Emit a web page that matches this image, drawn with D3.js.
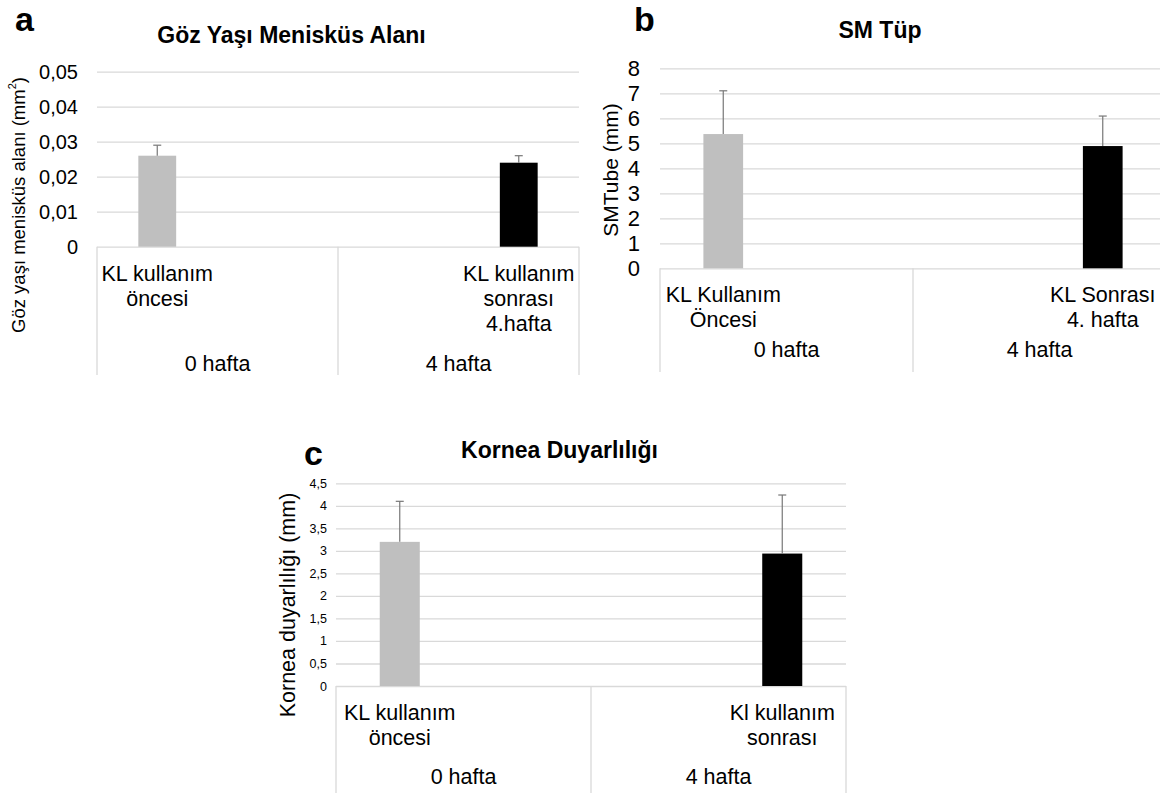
<!DOCTYPE html>
<html>
<head>
<meta charset="utf-8">
<script src="https://cdn.jsdelivr.net/npm/d3@7"></script>
<style>
  body { margin: 0; background: #fff; }
  svg { display: block; font-family: "Liberation Sans", Arial, sans-serif; }
</style>
</head>
<body>
<svg id="chart" width="1160" height="793"></svg>
<script>
// data
const weeks = ["0 hafta", "4 hafta"];
const series = ["KL öncesi", "KL sonrası"];

// panel a - Göz Yaşı Menisküs Alanı
const labelsA = [["KL kullanım", "öncesi"], ["KL kullanım", "sonrası", "4.hafta"]];
const meanA = [0.026, 0.024];
const sdA = [0.003, 0.002];
const ticksA = [0, 0.01, 0.02, 0.03, 0.04, 0.05];

// panel b - SM Tüp
const labelsB = [["KL Kullanım", "Öncesi"], ["KL Sonrası", "4. hafta"]];
const meanB = [5.37, 4.89];
const sdB = [1.73, 1.2];
const ticksB = [0, 1, 2, 3, 4, 5, 6, 7, 8];

// panel c - Kornea Duyarlılığı
const labelsC = [["KL kullanım", "öncesi"], ["Kl kullanım", "sonrası"]];
const meanC = [3.2, 2.94];
const sdC = [0.9, 1.3];
const ticksC = [0, 0.5, 1, 1.5, 2, 2.5, 3, 3.5, 4, 4.5];

const barColors = ["#bfbfbf", "#000000"];
const trFormat = d3.formatLocale({decimal: ",", thousands: ".", grouping: [3], currency: ["", "₺"]}).format("~g");

const svg = d3.select("#chart");

function drawPanel(p) {
  const g = svg.append("g");
  const y = d3.scaleLinear().domain([0, d3.max(p.ticks)]).range([p.bottom, p.top]);
  const x = d3.scaleBand().domain(weeks).range([p.left, p.right]).padding(0);
  const xs = d3.scaleBand().domain(series).range([0, x.bandwidth()]).padding(0);
  const bw = xs.bandwidth() * 0.314;

  // gridlines + tick labels
  const axis = g.append("g")
    .attr("transform", `translate(${p.left},0)`)
    .call(d3.axisLeft(y).tickValues(p.ticks).tickFormat(trFormat)
      .tickSize(-(p.right - p.left)).tickPadding(p.tickPad));
  axis.select(".domain").remove();
  axis.selectAll(".tick line").attr("stroke", "#d9d9d9").attr("stroke-width", 1.3);
  axis.selectAll(".tick text")
    .attr("fill", "#000")
    .style("font-size", p.tickFont + "px")
    .style("font-family", "'Liberation Sans', Arial, sans-serif");

  // category box lines
  const edges = [p.left, x(weeks[1]), p.right];
  g.selectAll("line.cat").data(edges).join("line")
    .attr("class", "cat")
    .attr("x1", d => d).attr("x2", d => d)
    .attr("y1", p.bottom).attr("y2", p.boxBottom)
    .attr("stroke", "#d9d9d9").attr("stroke-width", 1.3);

  const cx = i => x(weeks[i]) + xs(series[i]) + xs.bandwidth() / 2;

  // bars
  g.selectAll("rect.bar").data(p.mean).join("rect")
    .attr("class", "bar")
    .attr("x", (d, i) => cx(i) - bw / 2)
    .attr("width", bw)
    .attr("y", d => y(d))
    .attr("height", d => y(0) - y(d))
    .attr("fill", (d, i) => barColors[i]);

  // error bars (upper only)
  p.mean.forEach((m, i) => {
    const top = y(m + p.sd[i]);
    g.append("line")
      .attr("x1", cx(i)).attr("x2", cx(i))
      .attr("y1", y(m)).attr("y2", top)
      .attr("stroke", "#777").attr("stroke-width", 1.2);
    g.append("line")
      .attr("x1", cx(i) - 4).attr("x2", cx(i) + 4)
      .attr("y1", top).attr("y2", top)
      .attr("stroke", "#777").attr("stroke-width", 1.2);
  });

  // inner category labels
  p.labels.forEach((lines, i) => {
    const t = g.append("text")
      .attr("text-anchor", "middle")
      .style("font-size", p.catFont + "px")
      .attr("fill", "#000");
    lines.forEach((ln, k) => {
      t.append("tspan")
        .attr("x", cx(i))
        .attr("y", p.bottom + 34 + k * 25)
        .text(ln);
    });
  });

  // week labels
  g.selectAll("text.week").data(weeks).join("text")
    .attr("class", "week")
    .attr("x", d => x(d) + x.bandwidth() / 2)
    .attr("y", p.bottom + p.weekOff)
    .attr("text-anchor", "middle")
    .style("font-size", p.catFont + "px")
    .attr("fill", "#000")
    .text(d => d);

  // titles
  g.append("text")
    .attr("x", p.titleX).attr("y", p.titleY)
    .attr("text-anchor", "middle")
    .style("font-size", "23px").style("font-weight", "bold")
    .text(p.title);

  g.append("text")
    .attr("x", p.letterX).attr("y", p.letterY)
    .style("font-size", "34px").style("font-weight", "bold")
    .text(p.letter);

  const yt = g.append("text")
    .attr("transform", `translate(${p.yTitleX},${p.yTitleY}) rotate(-90)`)
    .attr("text-anchor", "middle")
    .attr("dominant-baseline", "central")
    .style("font-size", p.yTitleFont + "px")
    .text(p.yTitle);
  if (p.sup) {
    yt.append("tspan").attr("baseline-shift", "super").style("font-size", "11px").text(p.sup);
    yt.append("tspan").text(")");
  }
}

drawPanel({
  letter: "a", letterX: 15, letterY: 31,
  title: "Göz Yaşı Menisküs Alanı", titleX: 291.5, titleY: 43,
  yTitle: "Göz yaşı menisküs alanı (mm", sup: "2", yTitleX: 18, yTitleY: 205, yTitleFont: 18.5,
  left: 97, right: 579, top: 71.7, bottom: 246.7, boxBottom: 375,
  ticks: ticksA, tickPad: 19, tickFont: 20, catFont: 21.5, weekOff: 124,
  labels: labelsA, mean: meanA, sd: sdA
});

drawPanel({
  letter: "b", letterX: 634, letterY: 31,
  title: "SM Tüp", titleX: 880, titleY: 38,
  yTitle: "SMTube (mm)", yTitleX: 610, yTitleY: 170, yTitleFont: 21,
  left: 660, right: 1166, top: 68.3, bottom: 268.3, boxBottom: 372,
  ticks: ticksB, tickPad: 20, tickFont: 22, catFont: 21.5, weekOff: 89,
  labels: labelsB, mean: meanB, sd: sdB
});

drawPanel({
  letter: "c", letterX: 304, letterY: 465,
  title: "Kornea Duyarlılığı", titleX: 559.5, titleY: 458,
  yTitle: "Kornea duyarlılığı (mm)", yTitleX: 288, yTitleY: 605, yTitleFont: 21.5,
  left: 336, right: 846, top: 483.3, bottom: 686, boxBottom: 800,
  ticks: ticksC, tickPad: 9, tickFont: 12.5, catFont: 21.5, weekOff: 98,
  labels: labelsC, mean: meanC, sd: sdC
});
</script>
</body>
</html>
